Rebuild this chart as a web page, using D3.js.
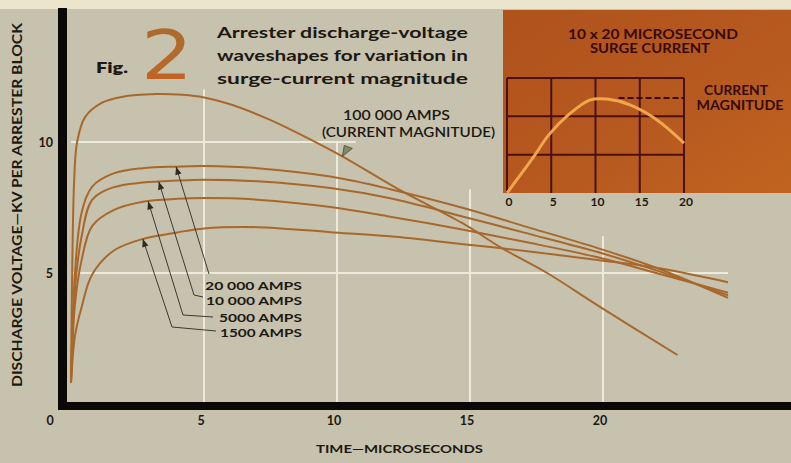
<!DOCTYPE html>
<html><head><meta charset="utf-8">
<script src="https://cdn.jsdelivr.net/npm/d3@7"></script>
<style>html,body{margin:0;padding:0;background:#c6c2ae;overflow:hidden}</style>
</head><body><svg id="chart" width="791" height="463"></svg>
<script>
// Discharge voltage (kV per arrester block) against time (microseconds)
const times = [0, 0.15, 0.4, 0.8, 1.6, 2.7, 4, 5, 7, 9.75, 12, 14.75, 17, 19.8, 22, 24.7];
const volts20000 = [0.8, 5.0, 7.3, 8.3, 8.8, 9.0, 9.06, 9.08, 9.0, 8.68, 8.2, 7.48, 6.8, 5.95, 5.2, 4.05];
const volts10000 = [0.8, 4.4, 6.4, 7.8, 8.27, 8.45, 8.53, 8.56, 8.5, 8.24, 7.85, 7.15, 6.55, 5.8, 5.1, 4.15];
const volts5000  = [0.8, 3.8, 5.5, 6.8, 7.4, 7.72, 7.83, 7.86, 7.8, 7.52, 7.15, 6.65, 6.2, 5.6, 5.0, 4.25];
const volts1500  = [0.8, 2.6, 3.7, 4.95, 5.85, 6.3, 6.55, 6.7, 6.75, 6.56, 6.4, 6.1, 5.85, 5.5, 5.2, 4.65];

const times100k = [0, 0.04, 0.12, 0.23, 0.53, 1.17, 1.9, 3.2, 4.2, 5, 6.1, 7.4, 8.6, 10.2, 12.3, 14.7, 16.2, 17.9, 19.9, 22.8];
const volts100k = [0.8, 4.7, 8.55, 10.0, 10.95, 11.5, 11.72, 11.83, 11.8, 11.7, 11.4, 10.88, 10.3, 9.45, 8.2, 6.91, 5.95, 5.0, 3.7, 1.87];

const seriesLabels = ["20 000 AMPS", "10 000 AMPS", "5000 AMPS", "1500 AMPS"];
const markerTimes = [3.95, 3.3, 2.9, 2.7];

const xTicks = [0, 5, 10, 15, 20];
const yTicks = [5, 10];
// grid: vertical lines (time, upper voltage reach), horizontal lines (voltage, right time reach)
const gridXTimes = [5, 10, 15, 20];
const gridXTops = [12, 10, 8.2, 6.4];
const gridYVolts = [5, 10];
const gridYEnds = [24.7, 10.7];

// 10 x 20 microsecond surge current wave (relative units)
const surgeTimes = [0, 3, 4.7, 6.9, 9.4, 11.3, 13.9, 17, 20];
const surgeCurrent = [0, 0.94, 1.51, 2.03, 2.43, 2.45, 2.3, 1.9, 1.3];
const surgeTicks = [0, 5, 10, 15, 20];
const surgePeak = 2.48;

const svg = d3.select("#chart");
const W = 791, H = 463;
const ink = "#1d1812";
const curveColor = "#a8682c";
const FONT = "Lato, 'Open Sans', sans-serif";

svg.append("rect").attr("width", W).attr("height", H).attr("fill", "#c6c2ae");
svg.append("rect").attr("width", W).attr("height", 9).attr("fill", "#ebe5cd");

const x = d3.scaleLinear().domain([0, 20]).range([71, 603]);
const y = d3.scaleLinear().domain([0, 10]).range([404, 142]);

function text(g, px, py, str, size, len, opt = {}) {
  const t = g.append("text").attr("x", px).attr("y", py).text(str)
    .attr("font-family", opt.family || FONT).attr("font-size", size)
    .attr("font-weight", opt.weight || 700).attr("fill", opt.fill || ink)
    .attr("text-anchor", opt.anchor || "start");
  if (len) t.attr("textLength", len).attr("lengthAdjust", "spacingAndGlyphs");
  if (opt.transform) t.attr("transform", opt.transform);
  return t;
}

// grid
const grid = svg.append("g").attr("stroke", "#f3efe0").attr("stroke-width", 2).attr("opacity", 0.9);
gridXTimes.forEach((t, i) => grid.append("line")
  .attr("x1", x(t)).attr("x2", x(t)).attr("y1", y(gridXTops[i])).attr("y2", y(0)));
gridYVolts.forEach((v, i) => grid.append("line")
  .attr("x1", x(0)).attr("x2", x(gridYEnds[i])).attr("y1", y(v)).attr("y2", y(v)));

// inset: 10 x 20 microsecond surge current
const defs = svg.append("defs");
const inset = svg.append("g");
const xi = d3.scaleLinear().domain([0, 20]).range([507, 684]);
const yi = d3.scaleLinear().domain([0, 3]).range([193, 78]);
const ig = defs.append("linearGradient").attr("id", "insetFill")
  .attr("x1", 0).attr("y1", 0).attr("x2", 1).attr("y2", 1);
ig.append("stop").attr("offset", "0%").attr("stop-color", "#b0521c");
ig.append("stop").attr("offset", "60%").attr("stop-color", "#b75a20");
ig.append("stop").attr("offset", "100%").attr("stop-color", "#c0641f");
inset.append("rect").attr("x", 503).attr("y", 10).attr("width", W - 503).attr("height", 183)
  .attr("fill", "url(#insetFill)");
const igrid = inset.append("g").attr("stroke", "#4a1012").attr("stroke-width", 2);
surgeTicks.forEach(t => igrid.append("line").attr("x1", xi(t)).attr("x2", xi(t))
  .attr("y1", yi(3)).attr("y2", yi(0)));
[1, 2, 3].forEach(v => igrid.append("line").attr("x1", xi(0)).attr("x2", xi(20))
  .attr("y1", yi(v)).attr("y2", yi(v)));
inset.append("path")
  .attr("d", d3.line().x((d, i) => xi(surgeTimes[i])).y(d => yi(d)).curve(d3.curveCatmullRom.alpha(0.5))(surgeCurrent))
  .attr("fill", "none").attr("stroke", "#f2a64c").attr("stroke-width", 3);
inset.append("line").attr("x1", xi(12.6)).attr("x2", xi(20)).attr("y1", yi(surgePeak)).attr("y2", yi(surgePeak))
  .attr("stroke", "#3a0c0e").attr("stroke-width", 2).attr("stroke-dasharray", "6,3");
const maroon = "#360a0c";
text(inset, 653, 39, "10 x 20 MICROSECOND", 12.5, 170, { anchor: "middle", fill: maroon });
text(inset, 650, 53, "SURGE CURRENT", 12.5, 120, { anchor: "middle", fill: maroon });
text(inset, 736, 95, "CURRENT", 12.5, 64, { anchor: "middle", fill: maroon });
text(inset, 740, 110, "MAGNITUDE", 12.5, 87, { anchor: "middle", fill: maroon });
surgeTicks.forEach(t => text(svg, xi(t) + 2, 206, String(t), 12, null, { anchor: "middle" }));

// series curves
const line = d3.line().x(d => x(d[0])).y(d => y(d[1])).curve(d3.curveCatmullRom.alpha(0.5));
const seriesVolts = [volts20000, volts10000, volts5000, volts1500];
seriesVolts.forEach(vs => svg.append("path")
  .attr("d", line(times.map((t, i) => [t, vs[i]])))
  .attr("fill", "none").attr("stroke", curveColor).attr("stroke-width", 2));
svg.append("path")
  .attr("d", line(times100k.map((t, i) => [t, volts100k[i]])))
  .attr("fill", "none").attr("stroke", curveColor).attr("stroke-width", 2);

// value of a series at a given time (linear between points)
function valueAt(ts, vs, t) {
  const i = Math.max(1, d3.bisectLeft(ts, t));
  const f = (t - ts[i - 1]) / (ts[i] - ts[i - 1]);
  return vs[i - 1] + f * (vs[i] - vs[i - 1]);
}

// leader lines from labels to arrowheads on the curves
const labelPos = [[205, 290], [206, 305], [219, 322], [220, 337]];
const leaderBend = [null, [194, 295], [183, 315], [172, 327]];
const leaderEnd = [[209, 274], [203, 297], [213, 317], [216, 331]];
const leaders = svg.append("g");
seriesVolts.forEach((vs, i) => {
  const mx = x(markerTimes[i]), my = y(valueAt(times, vs, markerTimes[i]));
  const pts = [[mx, my]];
  if (leaderBend[i]) pts.push(leaderBend[i]);
  pts.push(leaderEnd[i]);
  leaders.append("path").attr("d", d3.line()(pts.slice().reverse()))
    .attr("fill", "none").attr("stroke", "#3a3a30").attr("stroke-width", 1);
  const nxt = pts[1];
  const ang = Math.atan2(my - nxt[1], mx - nxt[0]) * 180 / Math.PI;
  leaders.append("path").attr("d", "M0,0 L-8,-3.2 L-8,3.2 Z")
    .attr("transform", `translate(${mx},${my}) rotate(${ang})`).attr("fill", "#2e2a20");
  text(svg, labelPos[i][0], labelPos[i][1], seriesLabels[i], 12, [97, 96, 83, 82][i]);
});

// 100 000 amps annotation arrow
const at = 10.2, ax = x(at), ay = y(valueAt(times100k, volts100k, at));
svg.append("path").attr("d", `M${ax},${ay} L${ax + 2},${ay - 11} L${ax + 10},${ay - 8} Z`)
  .attr("fill", "#7e8c60").attr("stroke", "#4a4a30").attr("stroke-width", 0.8);
text(svg, 343, 120, "100 000  AMPS", 12.5, 107, { weight: 600 });
text(svg, 322, 137, "(CURRENT  MAGNITUDE)", 12.5, 173, { weight: 600 });

// thick black axes
svg.append("rect").attr("x", x(0) - 13).attr("y", y(0) - 2).attr("width", W - (x(0) - 13)).attr("height", 8)
  .attr("fill", "#0b0908");
svg.append("rect").attr("x", x(0) - 13).attr("y", 8).attr("width", 9).attr("height", y(0) + 6 - 8)
  .attr("fill", "#0b0808");

// tick labels
xTicks.forEach(t => text(svg, t === 0 ? x(0) - 21 : x(t) - 3, 425, String(t), 12.5, null, { anchor: "middle" }));
yTicks.forEach(v => text(svg, 53, y(v) + 5, String(v), 12.5, null, { anchor: "end" }));

// axis titles
text(svg, 316, 453, "TIME\u2014MICROSECONDS", 12, 167);
text(svg, 22, 205, "DISCHARGE VOLTAGE\u2014KV PER ARRESTER BLOCK", 12.5, 364,
  { anchor: "middle", transform: "rotate(-90,22,205)" });

// title block
text(svg, 96, 73, "Fig.", 15, 32, { weight: 800 });
const g2 = defs.append("linearGradient").attr("id", "twoFill")
  .attr("x1", 0).attr("y1", 0).attr("x2", 0).attr("y2", 1);
g2.append("stop").attr("offset", "0%").attr("stop-color", "#a86a2c");
g2.append("stop").attr("offset", "65%").attr("stop-color", "#b86a2a");
g2.append("stop").attr("offset", "100%").attr("stop-color", "#d2561c");
text(svg, 0, 0, "2", 68, null, { family: "'DejaVu Sans', sans-serif", weight: 400, fill: "url(#twoFill)",
  transform: "translate(141,79) scale(1.2,1)" });
text(svg, 217, 38, "Arrester discharge-voltage", 14.5, 251);
text(svg, 217, 61, "waveshapes for variation in", 14.5, 251);
text(svg, 217, 84, "surge-current  magnitude", 14.5, 251);
</script></body></html>
